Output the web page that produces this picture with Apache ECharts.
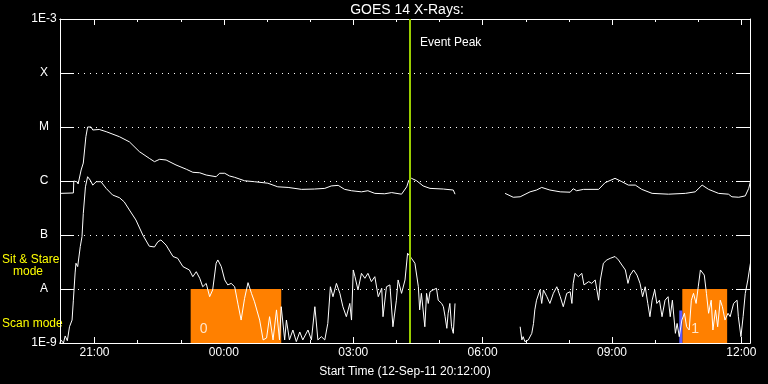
<!DOCTYPE html>
<html>
<head>
<meta charset="utf-8">
<script src="https://cdn.jsdelivr.net/npm/echarts@6/dist/echarts.min.js"></script>
<style>html,body{margin:0;padding:0;background:#000;}#c{width:768px;height:384px;}</style>
</head>
<body>
<div id="c"></div>
<script>
// Time axis: hours relative to 00:00 on 13-Sep-11 (negative = 12-Sep-11)
const timeRange = [-3.8, 12.2];
const majorTicks = [-3, 0, 3, 6, 9, 12];
const minorTicks = [-3, -2, -1, 0, 1, 2, 3, 4, 5, 6, 7, 8, 9, 10, 11, 12];
const fluxLevels = [1e-9, 1e-8, 1e-7, 1e-6, 1e-5, 1e-4, 1e-3];
const fluxLabels = ['1E-9', 'A', 'B', 'C', 'M', 'X', '1E-3'];

// GOES long channel (1-8 A), [hour, W/m^2]
const longSeg1 = [
 [-3.79,5.9e-7],[-3.49,6.0e-7],[-3.48,1.0e-6],[-3.40,0.96e-6],[-3.38,0.88e-6],[-3.31,1.6e-6],[-3.26,2.15e-6],
 [-3.20,6.6e-6],[-3.16,1.0e-5],[-3.08,1.0e-5],[-3.04,0.88e-5],[-2.89,0.9e-5],[-2.73,0.82e-5],[-2.42,0.66e-5],
 [-2.19,0.53e-5],[-1.96,0.35e-5],[-1.73,2.63e-6],[-1.61,2.28e-6],[-1.49,2.52e-6],[-1.34,2.45e-6],[-1.11,1.98e-6],
 [-0.87,1.65e-6],[-0.72,1.45e-6],[-0.56,1.42e-6],[-0.41,1.29e-6],[-0.18,1.2e-6],[-0.10,1.39e-6],[0.02,1.39e-6],
 [0.13,1.24e-6],[0.25,1.17e-6],[0.48,1.01e-6],[0.71,0.97e-6],[1.02,0.91e-6],[1.25,0.78e-6],[1.49,0.76e-6],
 [1.80,0.70e-6],[2.10,0.71e-6],[2.34,0.73e-6],[2.49,0.81e-6],[2.65,0.83e-6],[2.80,0.70e-6],[2.96,0.66e-6],
 [3.19,0.63e-6],[3.34,0.66e-6],[3.50,0.59e-6],[3.73,0.58e-6],[3.89,0.61e-6],[4.12,0.57e-6],[4.24,0.78e-6],
 [4.29,1.04e-6],[4.35,1.12e-6],[4.47,1.01e-6],[4.62,0.81e-6],[4.78,0.73e-6],[5.09,0.71e-6],[5.32,0.68e-6],[5.36,0.57e-6]
];
const longSeg2 = [
 [6.52,0.59e-6],[6.71,0.50e-6],[6.87,0.51e-6],[7.10,0.63e-6],[7.25,0.68e-6],[7.37,0.76e-6],[7.56,0.68e-6],
 [7.80,0.63e-6],[8.03,0.62e-6],[8.10,0.72e-6],[8.18,0.66e-6],[8.34,0.70e-6],[8.69,0.70e-6],[8.84,0.93e-6],
 [9.07,1.12e-6],[9.23,0.97e-6],[9.38,0.84e-6],[9.54,0.84e-6],[9.69,0.70e-6],[9.93,0.59e-6],[10.31,0.57e-6],
 [10.70,0.59e-6],[10.93,0.63e-6],[11.09,0.84e-6],[11.24,0.70e-6],[11.47,0.59e-6],[11.70,0.57e-6],[11.78,0.51e-6],
 [11.94,0.50e-6],[12.09,0.53e-6],[12.17,0.73e-6],[12.21,0.97e-6]
];
// GOES short channel (0.5-4 A), [hour, W/m^2]
const shortSeg1 = [
 [-3.80,1.0e-9],[-3.78,1.14e-9],[-3.75,1.24e-9],[-3.72,1.0e-9],[-3.68,1.35e-9],[-3.63,1.1e-9],[-3.58,2.0e-9],
 [-3.52,2.66e-9],[-3.49,6.2e-9],[-3.45,1.98e-8],[-3.43,3.0e-8],[-3.39,2.6e-8],[-3.33,6.1e-8],[-3.29,9.3e-8],
 [-3.26,2.5e-7],[-3.21,7.8e-7],[-3.16,1.2e-6],[-3.10,1.04e-6],[-3.04,0.84e-6],[-2.96,0.97e-6],[-2.85,0.97e-6],
 [-2.73,0.73e-6],[-2.58,0.55e-6],[-2.42,0.49e-6],[-2.31,0.41e-6],[-2.19,0.29e-6],[-2.04,1.9e-7],[-1.88,1.0e-7],
 [-1.73,6.2e-8],[-1.61,6.0e-8],[-1.53,7.5e-8],[-1.46,8.1e-8],[-1.34,6.5e-8],[-1.18,4.0e-8],[-1.07,3.7e-8],
 [-0.95,2.6e-8],[-0.80,2.25e-8],[-0.72,1.69e-8],[-0.64,2.09e-8],[-0.56,1.58e-8],[-0.49,1.1e-8],[-0.41,1.27e-8],
 [-0.33,0.72e-8],[-0.26,0.96e-8],[-0.18,3.0e-8],[-0.14,3.45e-8],[-0.06,2.6e-8],[0.02,1.47e-8],[0.09,1.19e-8],
 [0.17,1.27e-8],[0.25,1.1e-8],[0.33,5.1e-9],[0.40,2.66e-9],[0.48,6.7e-9],[0.56,1.31e-8],[0.64,8.3e-9],
 [0.71,5.8e-9],[0.83,2.66e-9],[0.91,1.14e-9],[0.99,1.24e-9],[1.06,3.07e-9],[1.14,1.14e-9],[1.22,4.1e-9],
 [1.29,1.14e-9],[1.33,4.7e-9],[1.41,1.14e-9],[1.45,2.66e-9],[1.52,1.14e-9],[1.60,1.74e-9],[1.68,1.06e-9],
 [1.76,1.6e-9],[1.83,1.14e-9],[1.95,1.74e-9],[2.03,1.14e-9],[2.11,4.7e-9],[2.18,1.14e-9],[2.26,1.31e-9],
 [2.34,1.14e-9],[2.41,2.3e-9],[2.47,1.1e-8],[2.53,7.2e-9],[2.61,1.27e-8],[2.69,8.3e-9],[2.76,4.7e-9],
 [2.84,3.07e-9],[2.92,5.4e-9],[2.96,2.66e-9],[3.00,2.25e-8],[3.04,1.69e-8],[3.11,0.96e-8],[3.19,1.95e-8],
 [3.27,1.58e-8],[3.34,1.95e-8],[3.42,1.37e-8],[3.50,1.69e-8],[3.58,0.72e-8],[3.66,1.03e-8],[3.69,3.07e-9],
 [3.77,1.1e-8],[3.85,1.19e-8],[3.92,2.0e-9],[4.00,6.2e-9],[4.04,1.47e-8],[4.12,8.3e-9],[4.20,1.47e-8],
 [4.26,4.6e-8],[4.29,4.9e-8],[4.35,3.7e-8],[4.43,3.0e-8],[4.51,1.1e-8],[4.54,4.1e-9],[4.58,8.3e-9],
 [4.62,4.1e-9],[4.66,2.0e-9],[4.70,8.3e-9],[4.74,5.4e-9],[4.78,8.9e-9],[4.85,0.96e-8],[4.93,1.03e-8],
 [4.97,6.2e-9],[5.05,5.4e-9],[5.09,4.7e-9],[5.13,3.07e-9],[5.17,1.87e-9],[5.20,3.55e-9],[5.24,5.4e-9],
 [5.28,2.0e-9],[5.32,1.51e-9],[5.36,5.4e-9]
];
const shortSeg2 = [
 [6.87,2.0e-9],[6.91,1.14e-9],[6.94,1.31e-9],[6.98,1.06e-9],[7.06,1.14e-9],[7.14,1.51e-9],[7.18,2.3e-9],
 [7.21,4.1e-9],[7.25,6.2e-9],[7.33,0.96e-8],[7.37,5.4e-9],[7.41,0.96e-8],[7.49,0.72e-8],[7.56,5.4e-9],
 [7.64,8.3e-9],[7.72,1.1e-8],[7.80,7.2e-9],[7.87,4.7e-9],[7.95,8.3e-9],[8.03,8.9e-9],[8.07,5.4e-9],
 [8.10,1.27e-8],[8.14,1.95e-8],[8.22,1.69e-8],[8.30,1.95e-8],[8.35,1.19e-8],[8.38,1.27e-8],[8.46,1.37e-8],
 [8.53,1.27e-8],[8.61,1.47e-8],[8.65,0.96e-8],[8.69,6.2e-9],[8.73,1.47e-8],[8.80,3.0e-8],[8.88,3.45e-8],
 [8.96,3.7e-8],[9.07,4.0e-8],[9.15,3.45e-8],[9.23,2.78e-8],[9.31,2.25e-8],[9.37,1.27e-8],[9.42,1.81e-8],
 [9.50,2.25e-8],[9.58,1.81e-8],[9.65,1.27e-8],[9.71,7.2e-9],[9.77,1.1e-8],[9.83,5.4e-9],[9.88,3.07e-9],
 [9.93,6.2e-9],[9.99,0.96e-8],[10.04,5.4e-9],[10.10,6.2e-9],[10.16,3.07e-9],[10.23,6.2e-9],[10.30,7.2e-9],
 [10.35,3.07e-9],[10.40,6.2e-9],[10.47,1.51e-9],[10.51,2.3e-9],[10.56,1.31e-9],[10.62,2.66e-9],[10.68,3.55e-9],
 [10.73,2.0e-9],[10.79,1.74e-9],[10.84,6.2e-9],[10.89,8.3e-9],[10.95,5.4e-9],[11.00,1.1e-8],[11.05,2.25e-8],
 [11.09,2.4e-8],[11.14,1.81e-8],[11.19,8.3e-9],[11.24,3.55e-9],[11.30,6.2e-9],[11.34,1.74e-9],[11.40,4.1e-9],
 [11.45,2.0e-9],[11.51,6.2e-9],[11.56,4.7e-9],[11.62,2.66e-9],[11.69,3.55e-9],[11.74,3.07e-9],[11.82,5.4e-9],
 [11.90,6.2e-9],[11.93,3.07e-9],[11.99,1.31e-9],[12.04,3.07e-9],[12.09,8.3e-9],[12.15,1.47e-8],[12.21,3.0e-8]
];
// Observing mode blocks: [start hour, end hour, top flux]
const scanBlocks = [[-0.77, 1.33, 1e-8], [10.63, 11.67, 1e-8]];
const scanBlockLabels = ['0', '1'];
const otherBlocks = [[10.56, 10.63, 4e-9]];
const eventPeak = 4.31;

const titleText = 'GOES 14 X-Rays:';
const xTitle = 'Start Time (12-Sep-11 20:12:00)';

function fmtHour(h) {
  let hh = Math.round(h);
  if (hh < 0) hh += 24;
  return (hh < 10 ? '0' : '') + hh + ':00';
}
function fmtFlux(v) {
  const e = Math.round(Math.log10(v));
  const i = fluxLevels.findIndex(f => Math.round(Math.log10(f)) === e);
  return i >= 0 ? fluxLabels[i] : '';
}

const chart = echarts.init(document.getElementById('c'), null, {renderer: 'canvas'});
const FONT = 'Liberation Sans';
const white = '#ffffff';

function xAxisDef(pos, ticks, len, labels) {
  return {
    type: 'value', position: pos, min: timeRange[0], max: timeRange[1],
    axisLine: {show: true, onZero: false, lineStyle: {color: white, width: 1}},
    axisTick: {show: true, inside: true, length: len, customValues: ticks, lineStyle: {color: white}},
    axisLabel: labels ? {show: true, customValues: majorTicks, formatter: fmtHour, color: white, fontSize: 12, fontFamily: FONT, margin: 4} : {show: false},
    splitLine: {show: false},
    name: labels ? xTitle : '', nameLocation: 'middle', nameGap: 23,
    nameTextStyle: {color: white, fontSize: 12, fontFamily: FONT}
  };
}
function yAxisDef(pos, labels) {
  return {
    type: 'log', logBase: 10, min: fluxLevels[0], max: fluxLevels[fluxLevels.length - 1], position: pos,
    axisLine: {show: true, onZero: false, lineStyle: {color: white}},
    axisTick: {show: true, inside: true, length: 14, lineStyle: {color: white}},
    axisLabel: labels ? {color: white, fontSize: 12, fontFamily: FONT, formatter: fmtFlux, align: 'center', margin: 16} : {show: false},
    splitLine: labels ? {show: true, lineStyle: {color: white, width: 1, type: [1, 5]}} : {show: false}
  };
}

const option = {
  backgroundColor: '#000000',
  animation: false,
  title: {
    text: titleText, left: 402, top: -2, textAlign: 'center',
    textStyle: {color: white, fontSize: 14, fontWeight: 'normal', fontFamily: FONT}
  },
  grid: {left: 60, right: 18, top: 19, bottom: 41, containLabel: false},
  xAxis: [
    xAxisDef('bottom', majorTicks, 6, true),
    xAxisDef('top', majorTicks, 6, false),
    xAxisDef('bottom', minorTicks, 3, false),
    xAxisDef('top', minorTicks, 3, false)
  ],
  yAxis: [yAxisDef('left', true), yAxisDef('right', false)],
  series: [
    {
      type: 'line', data: [], z: 1, silent: true,
      markArea: {
        silent: true,
        itemStyle: {color: '#ff8000', opacity: 1},
        data: scanBlocks.map(b => [{xAxis: b[0], yAxis: fluxLevels[0]}, {xAxis: b[1], yAxis: b[2]}])
      }
    },
    {
      type: 'line', data: [], z: 1, silent: true,
      markArea: {
        silent: true,
        itemStyle: {color: '#5a5aff', opacity: 1},
        data: otherBlocks.map(b => [{xAxis: b[0], yAxis: fluxLevels[0]}, {xAxis: b[1], yAxis: b[2]}])
      }
    },
    {
      type: 'scatter', z: 2, silent: true, symbolSize: 0,
      data: scanBlocks.map(b => [b[0], fluxLevels[0]]),
      label: {
        show: true, position: 'insideBottomLeft',
        formatter: p => scanBlockLabels[p.dataIndex],
        color: white, fontSize: 14, fontFamily: FONT, offset: [4, -2], align: 'left', verticalAlign: 'bottom'
      }
    },
    {type: 'line', data: longSeg1, showSymbol: false, z: 3, lineStyle: {color: white, width: 1}, itemStyle: {color: white}},
    {type: 'line', data: longSeg2, showSymbol: false, z: 3, lineStyle: {color: white, width: 1}, itemStyle: {color: white}},
    {type: 'line', data: shortSeg1, showSymbol: false, z: 3, lineStyle: {color: white, width: 1}, itemStyle: {color: white}},
    {type: 'line', data: shortSeg2, showSymbol: false, z: 3, lineStyle: {color: white, width: 1}, itemStyle: {color: white}},
    {
      type: 'line', data: [], z: 4,
      markLine: {
        silent: true, symbol: ['none', 'none'],
        lineStyle: {color: '#9acd00', width: 2, type: 'solid'},
        label: {show: false},
        data: [{xAxis: eventPeak}]
      }
    }
  ],
  graphic: [
    {type: 'text', left: 420, top: 37, style: {text: 'Event Peak', fill: white, fontSize: 12, fontFamily: FONT}},
    {type: 'text', left: 2, top: 254, style: {text: 'Sit & Stare', fill: '#ffff00', fontSize: 12, fontFamily: FONT}},
    {type: 'text', left: 13, top: 266, style: {text: 'mode', fill: '#ffff00', fontSize: 12, fontFamily: FONT}},
    {type: 'text', left: 2, top: 318, style: {text: 'Scan mode', fill: '#ffff00', fontSize: 12, fontFamily: FONT}}
  ]
};
chart.setOption(option);
</script>
</body>
</html>
